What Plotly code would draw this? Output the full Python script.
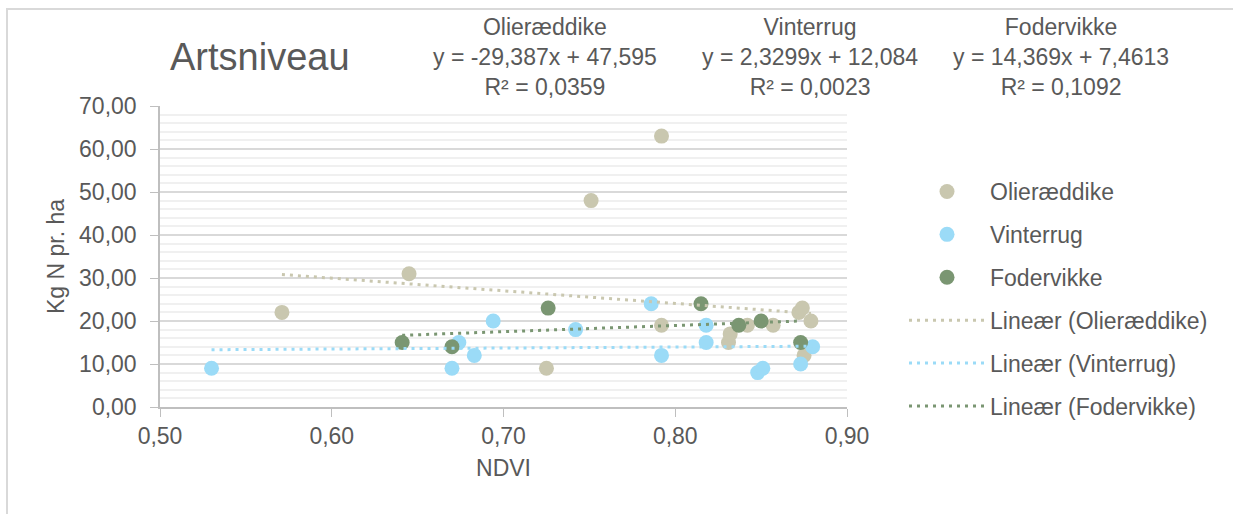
import plotly.graph_objects as go

# NDVI vs. measured nitrogen per species
series_names = ["Olieræddike", "Vinterrug", "Fodervikke"]

olie_ndvi = [0.571, 0.645, 0.725, 0.751, 0.792, 0.792, 0.831, 0.832, 0.842, 0.857,
             0.872, 0.874, 0.879, 0.875]
olie_n = [22, 31, 9, 48, 63, 19, 15, 17, 19, 19, 22, 23, 20, 12]

rug_ndvi = [0.530, 0.674, 0.670, 0.683, 0.694, 0.742, 0.786, 0.792, 0.818, 0.818,
            0.848, 0.851, 0.873, 0.880]
rug_n = [9, 15, 9, 12, 20, 18, 24, 12, 19, 15, 8, 9, 10, 14]

vikke_ndvi = [0.641, 0.670, 0.726, 0.815, 0.837, 0.850, 0.873]
vikke_n = [15, 14, 23, 24, 19, 20, 15]

# Linear trendline coefficients (y = slope*x + intercept) and R²
slopes = [-29.387, 2.3299, 14.369]
intercepts = [47.595, 12.084, 7.4613]
r_squared = [0.0359, 0.0023, 0.1092]

colors = ["#C9C7AF", "#9BDBF7", "#7A9672"]
text_color = "#595959"
font_family = "Liberation Sans, Arial, sans-serif"
fs = 23

W, H = 1233, 514
ML, MR, MT, MB = 160, 386, 106, 107
PW, PH = W - ML - MR, H - MT - MB


def px_x(px):
    # page pixel -> plot-area fraction
    return (px - ML) / PW


def px_y(py):
    return (H - MB - py) / PH


xs_all = [olie_ndvi, rug_ndvi, vikke_ndvi]
ys_all = [olie_n, rug_n, vikke_n]


def fmt(v):
    return str(v).replace(".", ",")


fig = go.Figure()

for i, name in enumerate(series_names):
    fig.add_trace(go.Scatter(
        x=xs_all[i], y=ys_all[i], mode="markers", name=name,
        legendgroup="m" + str(i),
        marker=dict(color=colors[i], size=15, line=dict(width=0)),
    ))

for i, name in enumerate(series_names):
    x0, x1 = min(xs_all[i]), max(xs_all[i])
    fig.add_trace(go.Scatter(
        x=[x0, x1],
        y=[slopes[i] * x0 + intercepts[i], slopes[i] * x1 + intercepts[i]],
        mode="lines", name="Lineær (" + name + ")",
        legendgroup="l" + str(i),
        line=dict(color=colors[i], width=3, dash="3px,5px"),
    ))

# Equation blocks above the plot
eq_x = [545, 810, 1061]
for i, name in enumerate(series_names):
    sign = "+" if intercepts[i] >= 0 else "-"
    txt = (name + "<br>y = " + fmt(slopes[i]) + "x " + sign + " " + fmt(abs(intercepts[i]))
           + "<br>R² = " + fmt(r_squared[i]))
    fig.add_annotation(
        x=px_x(eq_x[i]), y=px_y(57), xref="paper", yref="paper",
        text=txt, showarrow=False, align="center", xanchor="center", yanchor="middle",
        font=dict(size=fs, color=text_color, family=font_family),
    )

fig.add_annotation(
    x=px_x(260), y=px_y(57), xref="paper", yref="paper",
    text="Artsniveau", showarrow=False, xanchor="center", yanchor="middle",
    font=dict(size=38, color=text_color, family=font_family),
)

# Chart frame
fig.add_shape(type="rect", xref="paper", yref="paper",
              x0=px_x(7), x1=px_x(1300), y0=px_y(560), y1=px_y(9),
              line=dict(color="#D9D9D9", width=2), layer="below")

fig.update_layout(
    width=W, height=H,
    margin=dict(l=ML, r=MR, t=MT, b=MB),
    paper_bgcolor="white", plot_bgcolor="white",
    separators=",.",
    font=dict(family=font_family, color=text_color, size=fs),
    showlegend=True,
    legend=dict(
        x=px_x(904), y=px_y(170), xanchor="left", yanchor="top",
        font=dict(size=fs, color=text_color, family=font_family),
        tracegroupgap=10, itemwidth=76, bgcolor="rgba(0,0,0,0)",
    ),
    xaxis=dict(
        range=[0.5, 0.9], dtick=0.1, tickformat=".2f",
        showgrid=False, zeroline=False,
        showline=True, linecolor="#BFBFBF", linewidth=1.5,
        ticks="outside", ticklen=8, tickcolor="#BFBFBF",
        title=dict(text="NDVI", font=dict(size=fs, color=text_color), standoff=12),
        tickfont=dict(size=fs, color=text_color),
    ),
    yaxis=dict(
        range=[0, 70], dtick=10, tickformat=".2f",
        showgrid=True, gridcolor="#D9D9D9", gridwidth=1.5, zeroline=False,
        showline=True, linecolor="#BFBFBF", linewidth=1.5,
        ticks="outside", ticklen=8, tickcolor="#BFBFBF", ticklabelstandoff=9,
        minor=dict(dtick=2, showgrid=True, gridcolor="#F0F0F0", gridwidth=1.5),
        title=dict(text="Kg N pr. ha", font=dict(size=fs, color=text_color), standoff=8),
        tickfont=dict(size=fs, color=text_color),
    ),
)

fig.write_html("out.html")
